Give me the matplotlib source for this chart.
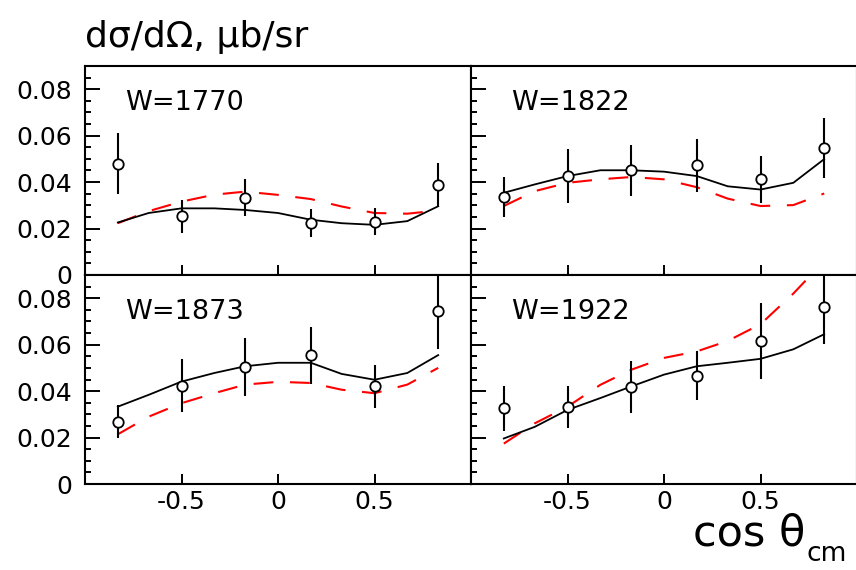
import matplotlib
matplotlib.use("Agg")
import matplotlib.pyplot as plt
from matplotlib.ticker import MultipleLocator, FixedLocator

# ---- data ----
cos_pts = [-0.83, -0.5, -0.17, 0.17, 0.5, 0.83]
curve_x = [-0.83, -0.67, -0.5, -0.33, -0.17, 0.0, 0.17, 0.33, 0.5, 0.67, 0.83]
energies = ["W=1770", "W=1822", "W=1873", "W=1922"]

data_1770 = [0.048, 0.0252, 0.0332, 0.0223, 0.0230, 0.0386]
err_1770 = [0.013, 0.007, 0.008, 0.006, 0.0057, 0.0095]
fit_1770 = [0.0226, 0.0267, 0.0287, 0.0287, 0.0280, 0.0267, 0.0238, 0.0223, 0.0216, 0.0232, 0.0296]
model_1770 = [0.0223, 0.0275, 0.0316, 0.0346, 0.0359, 0.0345, 0.0327, 0.0295, 0.0267, 0.0264, 0.0278]

data_1822 = [0.0335, 0.0426, 0.0451, 0.0472, 0.0412, 0.0546]
err_1822 = [0.0085, 0.0115, 0.011, 0.0114, 0.0100, 0.013]
fit_1822 = [0.0354, 0.0390, 0.0426, 0.0451, 0.0451, 0.0445, 0.0426, 0.0382, 0.0368, 0.0397, 0.0499]
model_1822 = [0.0297, 0.0361, 0.0397, 0.0412, 0.0422, 0.0412, 0.0378, 0.0329, 0.0297, 0.0301, 0.0351]

data_1873 = [0.0268, 0.0423, 0.0503, 0.0555, 0.0420, 0.0743]
err_1873 = [0.0072, 0.0115, 0.0125, 0.0123, 0.0094, 0.016]
fit_1873 = [0.0333, 0.0384, 0.0441, 0.0478, 0.0507, 0.0522, 0.0522, 0.0474, 0.0449, 0.0478, 0.0555]
model_1873 = [0.0214, 0.0290, 0.0348, 0.0391, 0.0428, 0.0440, 0.0435, 0.0406, 0.0391, 0.0428, 0.0500]

data_1922 = [0.0326, 0.0333, 0.0416, 0.0467, 0.0616, 0.0761]
err_1922 = [0.0097, 0.009, 0.0112, 0.0106, 0.0163, 0.016]
fit_1922 = [0.0196, 0.0246, 0.0319, 0.0370, 0.0420, 0.0471, 0.0507, 0.0522, 0.0539, 0.0580, 0.0645]
model_1922 = [0.0174, 0.0261, 0.0333, 0.0427, 0.0492, 0.0543, 0.0571, 0.0616, 0.0688, 0.0820, 0.0960]

panels = [
    (data_1770, err_1770, fit_1770, model_1770),
    (data_1822, err_1822, fit_1822, model_1822),
    (data_1873, err_1873, fit_1873, model_1873),
    (data_1922, err_1922, fit_1922, model_1922),
]

y_ticks = [0, 0.02, 0.04, 0.06, 0.08]
y_tick_labels = ["0", "0.02", "0.04", "0.06", "0.08"]
x_ticks = [-0.5, 0, 0.5]
x_tick_labels = ["-0.5", "0", "0.5"]

# ---- figure ----
W, H = 856, 570
fig = plt.figure(figsize=(W / 100, H / 100), dpi=100)
plt.rcParams['font.family'] = ['DejaVu Sans']

x0 = 85 / W
pw = 386 / W
ph = 209 / H
bottoms = [1 - 275 / H, 1 - 275 / H, 1 - 484 / H, 1 - 484 / H]
lefts = [x0, x0 + pw, x0, x0 + pw]

for i, (d, e, f, m) in enumerate(panels):
    ax = fig.add_axes([lefts[i], bottoms[i], pw, ph])
    ax.set_xlim(-1, 1)
    ax.set_ylim(0, 0.09)
    for s in ax.spines.values():
        s.set_linewidth(1.5)
    ax.plot(curve_x, m, color='red', lw=1.5, linestyle=(0, (9.5, 8.0)), zorder=2)
    ax.plot(curve_x, f, color='black', lw=1.3, zorder=3)
    ax.errorbar(cos_pts, d, yerr=e, fmt='o', color='black', ecolor='black',
                elinewidth=1.5, capsize=0, ms=7.5, mfc='white', mec='black',
                mew=1.3, zorder=4)
    ax.yaxis.set_major_locator(FixedLocator(y_ticks))
    ax.yaxis.set_minor_locator(MultipleLocator(0.005))
    ax.xaxis.set_major_locator(FixedLocator(x_ticks))
    ax.tick_params(axis='y', which='major', direction='in', length=11, width=1.4,
                   pad=9, labelsize=18, right=False)
    ax.tick_params(axis='y', which='minor', direction='in', length=4.5, width=1.4, right=False)
    ax.tick_params(axis='x', which='major', direction='in', length=7.5, width=1.4,
                   pad=4, labelsize=18, top=False)
    if i % 2 == 0:
        ax.set_yticklabels(y_tick_labels)
    else:
        ax.set_yticklabels([])
    if i >= 2:
        ax.set_xticklabels(x_tick_labels)
    else:
        ax.set_xticklabels([])
    ax.text(0.104, 0.79, energies[i], transform=ax.transAxes, fontsize=19.5,
            ha='left', va='baseline')

fig.text(85 / W, 1 - 47 / H, "dσ/dΩ, μb/sr", fontsize=26, ha='left', va='baseline')
fig.text(693 / W, 1 - 545 / H, "cos θ", fontsize=31, ha='left', va='baseline')
fig.text(807 / W, 1 - 561 / H, "cm", fontsize=19, ha='left', va='baseline')

fig.savefig("out.png", dpi=100)
